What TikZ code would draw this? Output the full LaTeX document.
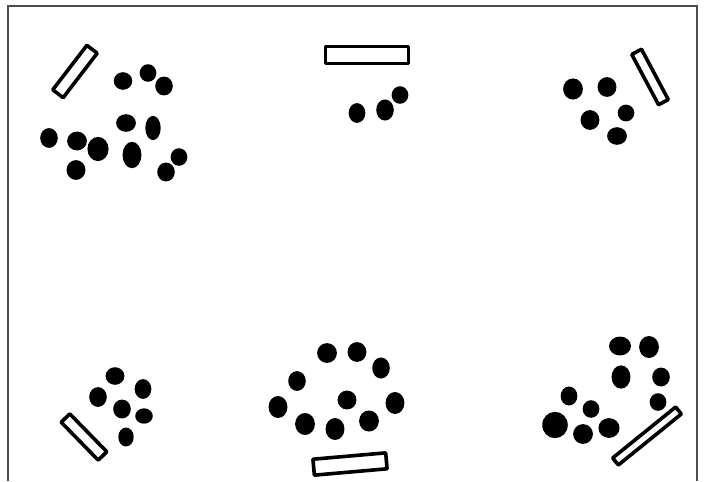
\documentclass[tikz,border=0pt]{standalone}
\usepackage{tikz}
\usetikzlibrary{shapes.geometric}

\begin{document}
\begin{tikzpicture}[x=0.5pt, y=-0.5pt,
    bench/.style={draw, line width=1.8pt, rectangle, inner sep=0pt, line join=round},
    frame/.style={draw=black!70, line width=1pt}]
  \useasboundingbox (0,0) rectangle (704,481);

  % frame, open at the bottom
  \coordinate (fbl) at (8,481);
  \coordinate (ftl) at (8,6);
  \coordinate (ftr) at (697,6);
  \coordinate (fbr) at (697,481);
  \draw[frame] (fbl) -- (ftl) -- (ftr) -- (fbr);

  % benches
  \node[bench, minimum width=28pt, minimum height=6.5pt, rotate=52.5] (benchTL) at (75,71.5) {};
  \node[bench, minimum width=41.5pt, minimum height=8.5pt] (benchT) at (367,55) {};
  \node[bench, minimum width=28.5pt, minimum height=5.5pt, rotate=-62] (benchTR) at (650,77) {};
  \node[bench, minimum width=26.5pt, minimum height=6pt, rotate=-45.7] (benchBL) at (84,437) {};
  \node[bench, minimum width=36.5pt, minimum height=8pt, rotate=5] (benchB) at (350,464) {};
  \node[bench, minimum width=40.5pt, minimum height=4.5pt, rotate=39] (benchBR) at (647,436) {};

  % people
  \foreach \x/\y/\a/\b in {
      123/81/4.2/4, 148/73/3.8/4, 164/86/4/4.3, 126/123/4.5/4, 153/128/3.5/5.5,
      49/138/4/4.5, 77/141/4.5/4.3, 98/149/4.8/5.5, 132/155/4.3/6, 76/170/4.3/4.5,
      179/157/3.8/4, 166/172/4/4.3,
      357/113/3.8/4.5, 385/110/4/4.8, 400/95/3.8/4,
      573/89/4.5/4.8, 607/87/4.3/4.5, 590/120/4.3/4.5, 626/113/3.8/3.8, 617/136/4.5/4,
      115/376/4.3/4, 143/389/3.8/4.5, 98/397/4/4.5, 122/409/4/4.3, 144/416/4/3.5, 126/437/3.5/4.3,
      327/353/4.5/4.5, 357/352/4.3/4.5, 381/368/4/4.8, 297/381/4/4.5, 347/400/4.3/4.3,
      395/403/4.3/5, 278/407/4.3/5, 305/424/4.5/5, 335/429/4.3/5, 369/421/4.5/4.8,
      620/346/5/4.3, 649/347/4.5/5, 621/377/4.3/5.3, 661/377/4/4.3, 658/402/3.8/4,
      569/396/3.8/4.3, 591/409/3.8/4, 555/425/5.8/6, 583/434/4.5/4.5, 609/428/4.8/4.5}
    \fill (\x,\y) ellipse[x radius=1.1*\a pt, y radius=1.1*\b pt];
\end{tikzpicture}
\end{document}
